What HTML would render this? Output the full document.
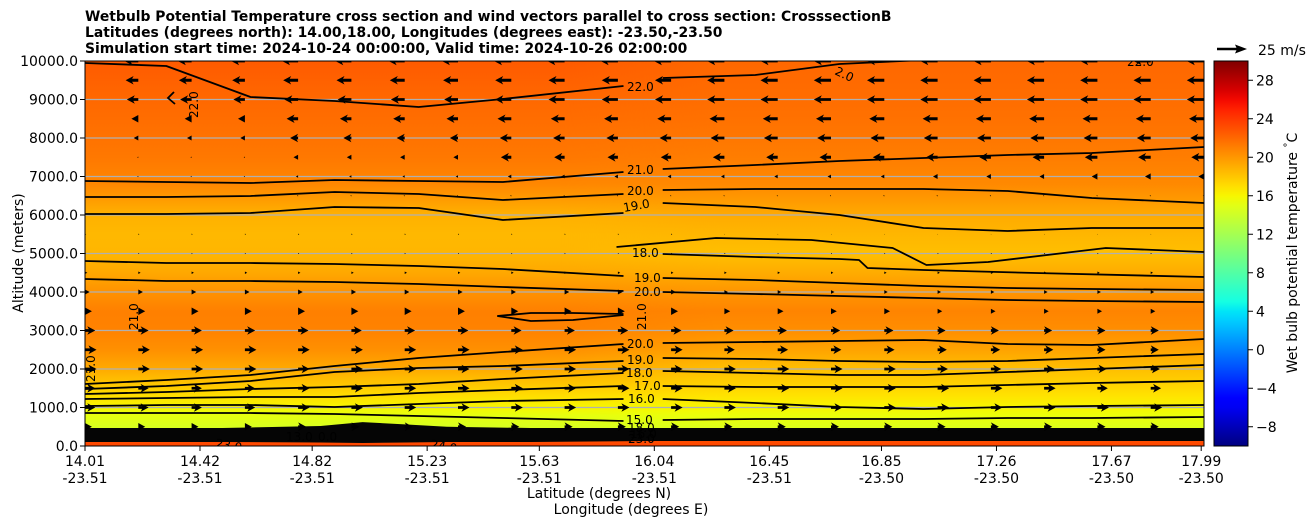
<!DOCTYPE html>
<html><head><meta charset="utf-8"><style>
html,body{margin:0;padding:0;background:#fff;}
svg{display:block;font-family:"DejaVu Sans","Liberation Sans",sans-serif;}
</style></head><body>
<svg id="chart" width="1311" height="526" viewBox="0 0 1311 526" xmlns="http://www.w3.org/2000/svg">
<defs>
<linearGradient id="gradLeft" gradientUnits="userSpaceOnUse" x1="0" y1="446" x2="0" y2="61"></linearGradient>
<linearGradient id="gradRight" gradientUnits="userSpaceOnUse" x1="0" y1="446" x2="0" y2="61"></linearGradient>
<linearGradient id="blend" gradientUnits="userSpaceOnUse" x1="560" y1="0" x2="720" y2="0"><stop offset="0" stop-color="#000"/><stop offset="1" stop-color="#fff"/></linearGradient>
<mask id="rightMask"><rect x="0" y="0" width="1311" height="526" fill="url(#blend)"/></mask>
<linearGradient id="cbarGrad" x1="0" y1="1" x2="0" y2="0"></linearGradient>
<clipPath id="plotClip"><rect x="85" y="61" width="1119" height="385"/></clipPath>
</defs>
<g font-weight="bold" font-size="13.9px" fill="#000">
<text x="85" y="21">Wetbulb Potential Temperature cross section and wind vectors parallel to cross section: CrosssectionB</text>
<text x="85" y="37">Latitudes (degrees north): 14.00,18.00, Longitudes (degrees east): -23.50,-23.50</text>
<text x="85" y="53">Simulation start time: 2024-10-24 00:00:00, Valid time: 2024-10-26 02:00:00</text>
</g>
<g id="plot" clip-path="url(#plotClip)">
<rect x="85" y="61" width="1119" height="385" fill="url(#gradLeft)"/>
<rect x="85" y="61" width="1119" height="385" fill="url(#gradRight)" mask="url(#rightMask)"/>
<g id="grid"></g>
<g id="band"></g>
<g id="contours"></g>
<g id="arrows"></g>
<g id="clabels" font-size="12px" fill="#000"></g>
</g>
<rect x="85" y="61" width="1119" height="385" fill="none" stroke="#000" stroke-width="1"/>
<g id="yaxis" font-size="14px" fill="#000"></g>
<g id="xaxis" font-size="14px" fill="#000"></g>
<text x="19" y="253" font-size="14px" text-anchor="middle" transform="rotate(-90 19 253)" dominant-baseline="middle">Altitude (meters)</text>
<text x="599" y="498" font-size="14px" text-anchor="middle">Latitude (degrees N)</text>
<text x="631" y="514" font-size="14px" text-anchor="middle">Longitude (degrees E)</text>
<g>
<line x1="1217" y1="49" x2="1238" y2="49" stroke="#000" stroke-width="2.4"/>
<polygon points="1247,49 1235,44.5 1237,49 1235,53.5" fill="#000"/>
<text x="1258" y="55" font-size="14px">25 m/s</text>
</g>
<g id="cbar">
<rect x="1214" y="61" width="34" height="385" fill="url(#cbarGrad)" stroke="#000" stroke-width="1"/>
</g>
<text x="1293" y="253" font-size="14px" text-anchor="middle" dominant-baseline="middle" transform="rotate(-90 1293 253)">Wet bulb potential temperature <tspan dy="-5" font-size="10px">°</tspan><tspan dy="5">C</tspan></text>
</svg>
<script>
// ---- data ----
const latTickLabels = ["14.01","14.42","14.82","15.23","15.63","16.04","16.45","16.85","17.26","17.67","17.99"];
const lonTickLabels = ["-23.51","-23.51","-23.51","-23.51","-23.51","-23.51","-23.51","-23.50","-23.50","-23.50","-23.50"];
const altTicks = [0,1000,2000,3000,4000,5000,6000,7000,8000,9000,10000];
const cbarTicks = [-8,-4,0,4,8,12,16,20,24,28];
// temperature profiles (altitude m, wet bulb pot. temp C)
const profileAlt = [0,150,250,300,500,800,1000,1300,1600,2000,2500,3000,3500,4000,4500,5000,5500,6000,6400,6800,7500,8500,9000,9500,10000];
const profileLeftT = [23.5,23,20,14.5,14.5,15.2,16,17,18,19.2,20.3,20.9,21,20.2,19.3,18.7,18.6,18.9,19.8,20.7,21.3,21.8,22,22.3,22.6];
const profileRightT = [23.5,23,20,14.5,14.8,15.5,16,16.8,17.5,18.3,19.5,20.4,20.8,20.1,19.1,18.3,18.7,19.2,19.9,20.6,21.1,21.6,21.8,21.9,22];
// contour lines
const latLeft = [14.01,14.3,14.6,14.9,15.2,15.5,15.93];
const latRight = [16.07,16.4,16.7,17.0,17.3,17.6,18.0];
const c22L = [9948,9870,9065,8961,8805,9013,9351];
const c22R = [9558,9636,9922,10026,10156,10156,10156];
const c21L = [6883,6857,6831,6909,6883,6857,7117];
const c21R = [7195,7299,7403,7481,7558,7610,7766];
const c20uL = [6468,6468,6494,6597,6545,6390,6545];
const c20uR = [6649,6675,6675,6675,6623,6442,6312];
const c19uL = [6026,6026,6052,6208,6182,5870,6052];
const c19uR = [6312,6208,6000,5662,5584,5662,5662];
const lat18u = [15.905,16.26,16.6,16.89,17.01,17.23,17.65,18.0];
const c18u = [5169,5403,5351,5143,4701,4779,5143,5039];
const lat18l = [16.07,16.4,16.7,16.77,16.8,17.0,17.4,18.0];
const c18l = [4987,4909,4857,4831,4623,4571,4494,4390];
const c19lL = [4805,4753,4753,4727,4675,4597,4416];
const c19lR = [4364,4312,4234,4156,4104,4078,4052];
const c20lL = [4338,4286,4286,4260,4208,4130,4026];
const c20lR = [4000,3948,3896,3844,3792,3766,3740];
const lat21loop = [15.48,15.6,15.75,15.93];
const c21loopTop = [3377,3455,3455,3429];
const c21loopBot = [3377,3247,3273,3403];
const c20L = [1610,1714,1844,2078,2286,2442,2649];
const c20R = [2675,2701,2727,2753,2649,2623,2779];
const c19L = [1481,1558,1688,1922,2026,2078,2208];
const c19R = [2286,2260,2208,2182,2208,2286,2390];
const c18L = [1351,1403,1481,1532,1610,1740,1896];
const c18R = [1948,1896,1844,1844,1922,2000,2104];
const c17L = [1221,1247,1273,1273,1377,1455,1558];
const c17R = [1558,1532,1532,1532,1584,1636,1688];
const c16L = [1039,1065,1065,1013,1091,1169,1221];
const c16R = [1221,1117,1013,961,1013,1039,1065];
const c15L = [857,857,857,831,779,727,649];
const c15R = [675,701,701,701,727,727,753];
// dense surface contour band
const latBand = [14.01,14.5,14.85,15.0,15.15,15.3,15.6,16.0,16.5,17.0,17.5,18.0];
const bandTop = [468,468,520,620,560,500,468,468,468,468,468,468];
const bandBottom = [104,104,90,78,90,104,104,130,130,130,130,130];
// wind (u component m/s) rows by altitude, 6 column groups
const windAlt = [10000,9500,9000,8500,8000,7500,7000,6500,6000,5500,5000,4500,4000,3500,3000,2500,2000,1500,1000,500];
const windU = [
 [-12,-14,-15,-15,-15,-15],
 [-11,-13,-14,-15,-15,-15],
 [-10,-12,-14,-15,-15,-15],
 [-6,-10,-12,-13,-13,-13],
 [-4,-7,-10,-12,-12,-12],
 [-1,-4,-9,-10,-10,-11],
 [-1,-2,-3,-3,-4,-5],
 [0,-1,-1,-1,-1,-1],
 [0,0,0,0,0,0],
 [1,1,1,0.5,0.5,0.5],
 [1,1,1,1,1,1],
 [2,2,2,2,2,2],
 [4,4,4,3,3,3],
 [6,6,6,5,4,4],
 [9,9,9,8,7,7],
 [10,10,10,9,8,7],
 [10,10,10,10,9,8],
 [9,10,10,10,10,9],
 [9,10,10,10,10,10],
 [6,7,7,7,7,7]
];
const windColsPerGroup = [4,4,4,4,3,3];
// ---- scales ----
const X0=85,X1=1204,Y0=446,Y1=61;
const latMin=14.01, latMax=18.0;
function xs(lat){return X0+(lat-latMin)/(latMax-latMin)*(X1-X0);}
function ys(alt){return Y0-(alt/10000)*(Y0-Y1);}
const tMin=-10,tMax=30;
function interp(pts,v){for(let i=1;i<pts.length;i++){if(v<=pts[i][0]){const a=pts[i-1],b=pts[i];return a[1]+(b[1]-a[1])*(v-a[0])/(b[0]-a[0]);}}return pts[pts.length-1][1];}
function jet(v){v=Math.max(0,Math.min(1,v));
 const r=interp([[0,0],[0.35,0],[0.66,1],[0.89,1],[1,0.5]],v);
 const g=interp([[0,0],[0.125,0],[0.375,1],[0.64,1],[0.91,0],[1,0]],v);
 const b=interp([[0,0.5],[0.11,1],[0.34,1],[0.65,0],[1,0]],v);
 return `rgb(${Math.round(r*255)},${Math.round(g*255)},${Math.round(b*255)})`;}
function tcol(t){return jet((t-tMin)/(tMax-tMin));}
const NS="http://www.w3.org/2000/svg";
function mk(tag,attrs,parent){const e=document.createElementNS(NS,tag);for(const k in attrs)e.setAttribute(k,attrs[k]);if(parent)parent.appendChild(e);return e;}
function fillGrad(id,temps){const g=document.getElementById(id);
 profileAlt.forEach((a,i)=>{mk('stop',{offset:(a/10000).toFixed(4),'stop-color':tcol(temps[i])},g);});}
fillGrad('gradLeft',profileLeftT);
fillGrad('gradRight',profileRightT);
const cg=document.getElementById('cbarGrad');
for(let i=0;i<=40;i++){mk('stop',{offset:(i/40).toFixed(3),'stop-color':jet(i/40)},cg);}
// grid
const grid=document.getElementById('grid');
altTicks.forEach(a=>{if(a>0&&a<10000){const l=mk('line',{x1:X0,x2:X1,y1:ys(a),y2:ys(a),stroke:'#b0b0b0','stroke-width':1.2},grid);
 
 }});
// band
const band=document.getElementById('band');
let bd='';latBand.forEach((l,i)=>{bd+=(i?'L':'M')+xs(l).toFixed(1)+','+ys(bandTop[i]).toFixed(1);});
for(let i=latBand.length-1;i>=0;i--){bd+='L'+xs(latBand[i]).toFixed(1)+','+ys(bandBottom[i]).toFixed(1);}
const bp=mk('path',{d:bd+'Z',fill:'#050505'},band);


// contours
const cont=document.getElementById('contours');
function line(lats,alts,name){let d='';lats.forEach((l,i)=>{d+=(i?'L':'M')+xs(l).toFixed(1)+','+ys(alts[i]).toFixed(1);});
 const p=mk('path',{d:d,fill:'none',stroke:'#000','stroke-width':1.8,'stroke-linejoin':'round'},cont);
 
 }
line(latLeft,c22L,'contour-22-left');line(latRight,c22R,'contour-22-right');
line(latLeft,c21L,'contour-21-left');line(latRight,c21R,'contour-21-right');
line(latLeft,c20uL,'contour-20-upper-left');line(latRight,c20uR,'contour-20-upper-right');
line(latLeft,c19uL,'contour-19-upper-left');line(latRight,c19uR,'contour-19-upper-right');
line(lat18u,c18u,'contour-18-upper');line(lat18l,c18l,'contour-18-lower');
line(latLeft,c19lL,'contour-19-mid-left');line(latRight,c19lR,'contour-19-mid-right');
line(latLeft,c20lL,'contour-20-mid-left');line(latRight,c20lR,'contour-20-mid-right');
line(lat21loop,c21loopTop,'contour-21-loop-top');line(lat21loop,c21loopBot,'contour-21-loop-bottom');
line(latLeft,c20L,'contour-20-low-left');line(latRight,c20R,'contour-20-low-right');
line(latLeft,c19L,'contour-19-low-left');line(latRight,c19R,'contour-19-low-right');
line(latLeft,c18L,'contour-18-low-left');line(latRight,c18R,'contour-18-low-right');
line(latLeft,c17L,'contour-17-left');line(latRight,c17R,'contour-17-right');
line(latLeft,c16L,'contour-16-left');line(latRight,c16R,'contour-16-right');
line(latLeft,c15L,'contour-15-left');line(latRight,c15R,'contour-15-right');
const sm=mk('path',{d:'M174,92 L168,98 L175,104',fill:'none',stroke:'#000','stroke-width':1.8},cont);


// arrows
const arr=document.getElementById('arrows');
const pxPerMs=1.15, nCols=22, colStep=(X1-X0)/(nCols-1);
windAlt.forEach((a,r)=>{let col=0;
 windColsPerGroup.forEach((n,gi)=>{for(let k=0;k<n;k++,col++){
  const u=windU[r][gi];const x=X0+col*colStep;const y=ys(a);
  const L=Math.abs(u)*pxPerMs;if(L<0.3){continue;}
  const s=Math.sign(u);let pts;
  const hl=8,hw=4.3,sw=1.4;
  if(L>=hl){const b=L-hl;
   pts=[[0,-sw],[b+1.5,-sw],[b,-hw],[L,0],[b,hw],[b+1.5,sw],[0,sw]];}
  else{const f=L/hl;pts=[[0,-hw*f],[L,0],[0,hw*f]];}
  const p=mk('polygon',{points:pts.map(q=>(x+s*q[0]).toFixed(1)+','+(y+q[1]).toFixed(1)).join(' '),fill:'#000'},arr);
  
  
 }});});
// contour labels
const cl=document.getElementById('clabels');
const labels=[["22.0",627,91,0],["21.0",627,174,0],["20.0",627,195,0],["19.0",624,212,-10],["18.0",632,257,0],
["19.0",634,282,0],["20.0",634,296,0],["21.0",646,330,-90],["20.0",627,348,0],["19.0",627,364,0],["18.0",626,377,0],
["17.0",634,390,0],["16.0",628,403,0],["15.0",626,424,0],["18.0",628,432,0],["23.0",628,443,0],["16.0",630,438,0],
["22.0",198,118,-90],["21.0",138,330,-90],["21.0",95,382,-90],["2.0",834,74,25],["22.0",1127,66,0],
["23.0",215,447,10],["13.0",286,441,0],["0.0",318,441,0],["24.0",430,448,10]];
labels.forEach(l=>{const t=mk('text',{x:l[1],y:l[2],transform:`rotate(${l[3]} ${l[1]} ${l[2]})`},cl);t.textContent=l[0];
 
 });
// y axis
const ya=document.getElementById('yaxis');
altTicks.forEach(a=>{const y=ys(a);mk('line',{x1:80,x2:85,y1:y,y2:y,stroke:'#000'},ya);
 const t=mk('text',{x:78,y:y+5,'text-anchor':'end'},ya);t.textContent=a.toFixed(1);
 
 });
// x axis
const xa=document.getElementById('xaxis');
latTickLabels.forEach((lab,i)=>{const x=xs(parseFloat(lab));mk('line',{x1:x,x2:x,y1:446,y2:451,stroke:'#000'},xa);
 const t=mk('text',{x:x,y:466,'text-anchor':'middle'},xa);t.textContent=lab;
 
 
 const t2=mk('text',{x:x,y:483,'text-anchor':'middle'},xa);t2.textContent=lonTickLabels[i];
 
 });
// colorbar ticks
const cb=document.getElementById('cbar');
cbarTicks.forEach(v=>{const y=446-(v-tMin)/(tMax-tMin)*385;mk('line',{x1:1248,x2:1253,y1:y,y2:y,stroke:'#000'},cb);
 const t=mk('text',{x:1256,y:y+5,'font-size':'14px'},cb);t.textContent=v<0?'\u2212'+Math.abs(v):String(v);
 
 });
</script>
</body></html>
